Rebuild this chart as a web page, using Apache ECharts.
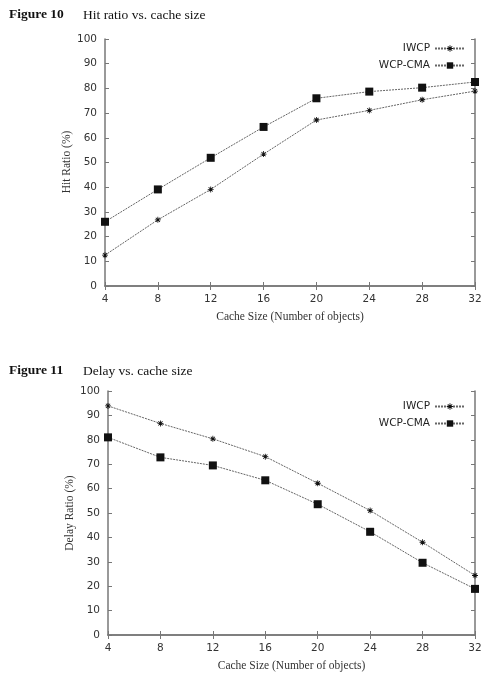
<!DOCTYPE html>
<html><head><meta charset="utf-8">
<script src="https://cdn.jsdelivr.net/npm/echarts@6/dist/echarts.min.js"></script>
<style>html,body{margin:0;padding:0;background:#fff}#c{width:488px;height:673px}</style>
</head><body><div id="c"></div>
<script>
const cacheSizes = [4, 8, 12, 16, 20, 24, 28, 32];
const hitIWCP = [12.5, 26.8, 39.1, 53.4, 67.2, 71.1, 75.4, 78.9];
const hitWCPCMA = [26.0, 39.1, 51.9, 64.4, 76.0, 78.7, 80.3, 82.6];
const delayIWCP = [93.9, 86.7, 80.4, 73.1, 62.2, 51.0, 38.0, 24.4];
const delayWCPCMA = [81.0, 72.8, 69.5, 63.4, 53.6, 42.3, 29.6, 18.9];
const seriesNames = ['IWCP', 'WCP-CMA'];
const yNames = ['Hit Ratio (%)', 'Delay Ratio (%)'];

const star = 'path://M-0.7,-5L0.7,-5L0.7,5L-0.7,5Z M-5,-0.7L5,-0.7L5,0.7L-5,0.7Z M-4,-3L-3,-4L4,3L3,4Z M3,-4L4,-3L-3,4L-4,3Z';
const axisColor = '#777';
const labelStyle = {color: '#333', fontSize: 10.5, fontFamily: 'DejaVu Sans'};
const nameStyle = {color: '#333', fontSize: 11.5, fontFamily: 'Liberation Serif'};

function xAxes(gi) {
  return [
    {gridIndex: gi, type: 'value', min: 4, max: 32, interval: 4, position: 'bottom',
     name: 'Cache Size (Number of objects)', nameLocation: 'middle', nameGap: 25, nameTextStyle: nameStyle,
     axisLine: {lineStyle: {color: axisColor, width: 1.5}},
     axisTick: {inside: true, length: 4, lineStyle: {color: axisColor}},
     axisLabel: Object.assign({margin: 8}, labelStyle), splitLine: {show: false}},
    {gridIndex: gi, type: 'value', min: 4, max: 32, interval: 4, position: 'top',
     axisLine: {lineStyle: {color: axisColor, width: 1.5}},
     axisTick: {inside: true, length: 4, lineStyle: {color: axisColor}},
     axisLabel: {show: false}, splitLine: {show: false}}
  ];
}
function yAxes(gi) {
  return [
    {gridIndex: gi, type: 'value', min: 0, max: 100, interval: 10, position: 'left',
     axisLine: {show: true, lineStyle: {color: axisColor, width: 1.5}},
     axisTick: {show: true, inside: true, length: 4, lineStyle: {color: axisColor}},
     axisLabel: Object.assign({margin: 8}, labelStyle), splitLine: {show: false}},
    {gridIndex: gi, type: 'value', min: 0, max: 100, interval: 10, position: 'right',
     axisLine: {show: true, lineStyle: {color: axisColor, width: 1.5}},
     axisTick: {show: true, inside: true, length: 4, lineStyle: {color: axisColor}},
     axisLabel: {show: false}, splitLine: {show: false}}
  ];
}
function mk(name, data, xi, yi, sym) {
  return {
    name: name, type: 'line', xAxisIndex: xi, yAxisIndex: yi,
    data: cacheSizes.map((x, i) => [x, data[i]]),
    symbol: sym, symbolSize: sym === 'rect' ? 8 : 6,
    showAllSymbol: true,
    lineStyle: {color: '#666', width: 1, type: [2, 1]},
    itemStyle: {color: '#111'},
    z: 3, animation: false
  };
}
function legend(top) {
  return {
    data: seriesNames, orient: 'vertical', right: 22, top: top, align: 'right',
    itemWidth: 30, itemHeight: 8, itemGap: 6,
    textStyle: {color: '#222', fontSize: 10.5, fontFamily: 'DejaVu Sans'},
    padding: 0
  };
}
function yName(text, x, y) {
  return {type: 'text', x: x, y: y, rotation: Math.PI / 2,
    style: {text: text, align: 'center', verticalAlign: 'middle', fill: '#333',
            font: '11.5px "Liberation Serif"'}};
}

const chart = echarts.init(document.getElementById('c'), null, {renderer: 'canvas'});
chart.setOption({
  animation: false,
  backgroundColor: '#fff',
  title: [
    {text: 'Figure 10', left: 4, top: 3, textStyle: {fontFamily: 'Liberation Serif', fontWeight: 'bold', fontSize: 13.5, color: '#111'}},
    {text: 'Hit ratio vs. cache size', left: 78, top: 3, textStyle: {fontFamily: 'Liberation Serif', fontWeight: 'normal', fontSize: 13.5, color: '#111'}},
    {text: 'Figure 11', left: 4, top: 359, textStyle: {fontFamily: 'Liberation Serif', fontWeight: 'bold', fontSize: 13.5, color: '#111'}},
    {text: 'Delay vs. cache size', left: 78, top: 359, textStyle: {fontFamily: 'Liberation Serif', fontWeight: 'normal', fontSize: 13.5, color: '#111'}}
  ],
  graphic: [yName(yNames[0], 67, 162), yName(yNames[1], 70, 513)],
  legend: [legend(43), legend(401)],
  grid: [
    {left: 105, width: 370, top: 39, height: 247},
    {left: 108, width: 367, top: 391, height: 245}
  ],
  xAxis: xAxes(0).concat(xAxes(1)),
  yAxis: yAxes(0).concat(yAxes(1)),
  series: [
    mk('IWCP', hitIWCP, 0, 0, star),
    mk('WCP-CMA', hitWCPCMA, 0, 0, 'rect'),
    mk('IWCP', delayIWCP, 2, 2, star),
    mk('WCP-CMA', delayWCPCMA, 2, 2, 'rect')
  ]
});
</script></body></html>
